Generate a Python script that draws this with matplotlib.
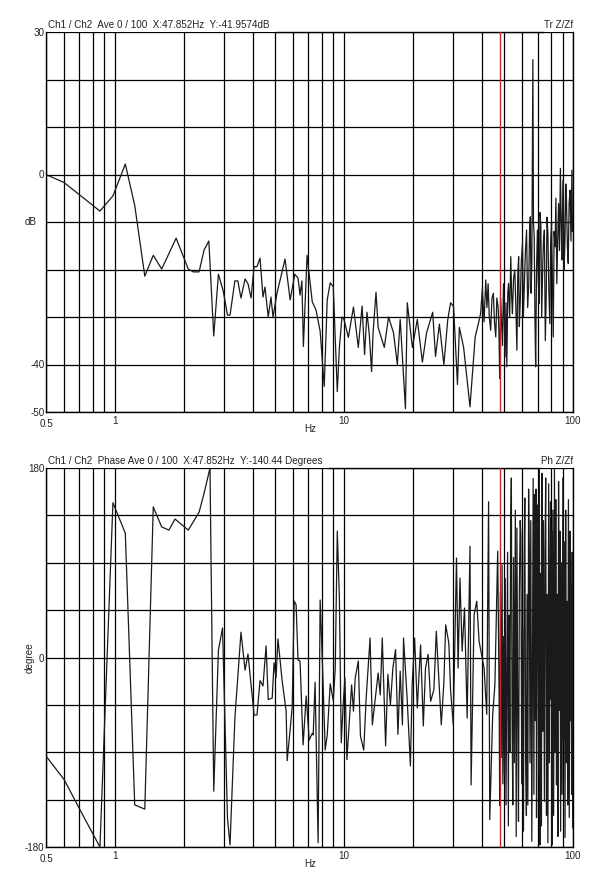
# Transfer function Z/Zf: magnitude (dB) and phase (degrees) vs frequency,
# drawn in the style of the analyser screen dump.

import numpy as np
import matplotlib.pyplot as plt
from matplotlib.ticker import LogLocator, NullFormatter

plt.rcParams['font.family'] = ['Liberation Sans', 'DejaVu Sans']

# magnitude trace
freq_mag = [0.5, 0.6, 0.86, 0.98, 1.11, 1.22, 1.35, 1.47, 1.6, 1.85, 2.09, 2.2, 2.33,
            2.45, 2.57, 2.7, 2.83, 2.97, 3.1, 3.18, 3.34, 3.44, 3.55, 3.7, 3.81, 3.93,
            4.05, 4.17, 4.3, 4.43, 4.52, 4.67, 4.8, 4.9, 5.1, 5.53, 5.82, 6.1, 6.3, 6.43,
            6.55, 6.65, 6.9, 7.27, 7.55, 7.87, 8.2, 8.45, 8.71, 8.98, 9.35, 9.55, 9.8,
            10.0, 10.45, 11.0, 11.55, 12.0, 12.3, 12.6, 12.9, 13.2, 13.4, 13.8, 14.1,
            15.0, 15.65, 16.45, 17.1, 17.6, 18.55, 18.9, 19.9, 20.9, 22.0, 22.95, 24.4,
            25.1, 26.1, 27.3, 28.4, 29.2, 30.1, 31.3, 31.9, 33.3, 35.5, 37.4, 38.7,
            39.5, 40.2, 40.9, 41.6, 42.1, 42.6, 43.1, 43.7, 44.3, 44.9, 45.4, 46.0, 46.5,
            47.1, 47.5, 47.85, 48.3, 48.8, 49.2, 49.7, 50.1, 50.5, 51.0, 51.4, 51.9, 52.3,
            52.9, 53.5, 54.0, 54.4, 55.0, 55.7, 56.3, 56.9, 57.4, 57.9, 58.3, 58.8, 59.5,
            60.2, 60.7, 61.2, 62.0, 62.7, 63.4, 64.1, 64.6, 65.1, 65.6, 66.1, 66.8, 67.2,
            67.7, 68.2, 68.7, 69.3, 69.9, 70.5, 71.2, 71.8, 72.4, 73.0, 73.7, 74.3, 75.0,
            75.7, 76.4, 77.0, 77.7, 78.4, 79.2, 79.9, 80.6, 81.3, 82.0, 82.7, 83.5, 84.2,
            85.0, 85.7, 86.5, 87.3, 88.1, 88.8, 89.4, 90.0, 90.7, 91.5, 92.3, 93.0, 93.6,
            94.5, 95.3, 96.2, 97.1, 98.0, 98.9, 99.5, 100.0]
mag_db = [0, -1.7, -7.7, -4.5, 2.2, -6.5, -21.4, -17, -19.9, -13.4, -19.9, -20.5, -20.5,
          -15.9, -14, -34, -21, -24.5, -29.6, -29.6, -22.4, -22.4, -26, -22, -23, -26,
          -19.4, -19.4, -17.6, -25.8, -23.7, -30, -25.8, -30, -25, -17.8, -26.4, -21, -21.8, -25.4,
          -22.4, -36.2, -17, -26.8, -28.5, -33, -44.6, -26.4, -22.8, -23.6, -45.7, -36.4, -30,
          -30.5, -34.3, -27.9, -36.4, -27.7, -37.9, -29, -33.7, -41.5, -33.3, -24.8, -32.2,
          -36.4, -30, -33.3, -40, -30.5, -49.3, -27, -36.4, -30.5, -39.5, -33.3, -29,
          -38.3, -31.5, -40, -30.5, -27, -27.8, -44.2, -32.2, -36.4, -48.9, -34.2, -31.2,
          -29.3, -24, -31, -22.2, -28, -23, -30, -32.8, -26, -25, -31, -34.2, -26,
          -27.9, -33, -43, -26, -31.4, -36, -23, -30, -38.4, -27, -40.5, -25, -23,
          -30, -17.3, -26, -29.3, -22, -20.1, -28, -37, -21, -17.3, -32, -27.2, -18,
          -14.5, -30, -24.4, -16, -11.7, -28, -23, -12, -8.9, -25, -18.7, 24.2, -10,
          -13.1, -30, -40.5, -20, -11.7, -22, -27.2, -8, -11, -30, -20.1, -14, -11.7,
          -35, -25.8, -9, -12.4, -24, -31.4, -14, -10.3, -22, -34.2, -12, -15.2, -5,
          -23, -14, -6.1, -16, 1.3, -10, -18, -8, -1.2, -20, -13.1, -2, -4.7,
          -15, -18.7, -6, -3.3, -14, 0.9, -12, -8.9]

# phase trace
freq_ph = [0.5, 0.6, 0.705, 0.86, 0.98, 1.11, 1.22, 1.35, 1.47, 1.6, 1.72, 1.83, 2.09,
           2.33, 2.45, 2.6, 2.7, 2.83, 2.95, 3.1, 3.18, 3.34, 3.55, 3.7, 3.81, 4.05, 4.17,
           4.3, 4.43, 4.57, 4.67, 4.86, 4.95, 5.05, 5.15, 5.37, 5.59, 5.65, 5.94, 6.06,
           6.18, 6.3, 6.43, 6.63, 6.84, 7.05, 7.27, 7.34, 7.48, 7.71, 7.87, 8.03, 8.28,
           8.45, 8.71, 8.98, 9.16, 9.35, 9.55, 9.73, 9.93, 10.1, 10.3, 10.8, 11.0, 11.2,
           11.55, 11.8, 12.2, 12.5, 13.0, 13.3, 13.7, 14.1, 14.4, 14.7, 15.2, 15.55, 15.95,
           16.35, 16.8, 17.2, 17.6, 18.0, 18.2, 18.9, 19.5, 19.85, 20.35, 20.9, 21.6, 22.2,
           22.7, 23.3, 23.9, 24.7, 25.3, 26.0, 26.6, 27.3, 27.8, 28.7, 29.2, 30.0, 31.0,
           31.5, 32.1, 32.8, 33.6, 34.5, 35.5, 35.9, 37.0, 38.0, 38.9, 39.9, 40.9, 42.0,
           42.8, 43.3, 44.6, 45.6, 46.9, 47.6,
           47.85, 48.2, 48.6, 49.0, 49.4, 49.8, 50.2, 50.6, 51.0, 51.4, 51.8, 52.2, 52.6,
           53.0, 53.4, 53.8, 54.2, 54.6, 55.0, 55.5, 56.0, 56.5, 56.9, 57.4, 57.8, 58.3,
           58.8, 59.2, 59.7, 60.2, 60.8, 61.2, 61.6, 62.1, 62.6, 63.0, 63.5, 64.0, 64.4,
           64.9, 65.4, 66.1, 66.6, 67.0, 67.5, 67.9, 68.4, 68.9, 69.3, 69.8, 70.3, 70.8,
           71.3, 71.8, 72.3, 72.8, 73.3, 73.8, 74.3, 75.0, 75.5, 76.0, 76.6, 77.1, 77.7,
           78.3, 78.9, 79.7, 80.3, 80.7, 81.1, 81.7, 82.3, 83.0, 83.6, 84.1, 84.7, 85.3,
           85.9, 86.5, 87.1, 87.7, 88.3, 88.9, 89.6, 90.3, 90.9, 91.6, 92.3, 92.9, 93.5,
           94.2, 94.8, 95.5, 96.3, 97.0, 97.5, 98.0, 98.6, 99.2, 99.7, 100.0]
phase_deg = [-93.6, -116, -145, -180, 147, 118, -140, -144, 143, 124, 121, 131.5, 121,
             138, 156, 180, -127, 7, 28, -152.5, -178, -57.5, 24, -12, 3.3, -54.6, -54.6,
             -22, -27, 11, -40, -38.5, -5, -19.5, 17.6, -22, -50.8, -98, -48, 53.6,
             50, -2.4, -3.3, -83, -36.6, -78.4, -72, -73.6, -23.5, -176, 54.6, 2.4, -88,
             -73.6, -25, -41, -10, 120, 56.5, -81, -43, -19.5, -97, -26, -51, -19.5,
             -3.3, -74.6, -88, -38.5, 18.5, -64, -38.5, -14.7, -35.6, 18.5, -84, -16, -45,
             -10, 7.5, -73, -13, -64, 18.5, -41.6, -103, -26, 18.5, -48, 12, -65,
             -10, 3, -41.6, -30.5, 25, -22.6, -64, -24, 31, 13.8, -30.5, -64, 94.5,
             -10, 75.5, 6, 47, -57.5, 105.6, -121, 40.7, 53.4, 15.4, 2.7, -10, -54,
             148, -154, -54, -26, 101, -41.6,
             -140.4, 62, -95, 88, -120, 20, -111, 75, -140, -20, 100, -160, 40,
             -90, 120, 170.5, -60, -140, 95, -100, 140, -170, 123, -60, -155.6, 60,
             130, 116.7, -120, 30, -165, 90, 151.5, -90, -150, 60, -140, 160, 101,
             -100, 130, -174.6, 20, 170, -130, 154.7, -60, 160, -152, 40, 145, -110,
             178, -178, 80, -160, 175, -70, 130, -136.6, 100, 170.5, -150, 60, -176,
             165, -100, 148, -40, 120, -178, 140, -150, 180, -90, 150, -121, 60,
             -170, 167, -50, 120, -165, 90, -130, 170.5, -80, 110, -171, 140, -100,
             53.4, -140, 150, -152, 120, -60, 69, -130, 100, -162, -26]

cursor_hz = 47.852

W, H = 600., 876.
fig = plt.figure(figsize=(W / 100, H / 100), dpi=100)
ax1 = fig.add_axes([46 / W, 1 - 412 / H, 527 / W, 380 / H])
ax2 = fig.add_axes([46 / W, 1 - 847 / H, 527 / W, 379 / H])

FS = 7.1
TXT = '#222222'


def style_panel(ax, ylim, ystep, ylabels, title, tag, top_gap):
    ax.set_xscale('log')
    ax.set_xlim(0.5, 100)
    ax.set_ylim(*ylim)
    ax.xaxis.set_minor_locator(LogLocator(base=10, subs=np.arange(2, 10)))
    ax.xaxis.set_minor_formatter(NullFormatter())
    ax.set_xticks([1, 10, 100])
    ax.set_xticklabels(['1', '10', '100'])
    ax.set_yticks(np.arange(ylim[0], ylim[1] + 1, ystep))
    ax.set_yticklabels(ylabels)
    ax.tick_params(which='both', length=0, labelsize=FS, colors=TXT)
    ax.tick_params(axis='y', pad=1)
    ax.tick_params(axis='x', pad=3)
    ax.grid(True, which='both', axis='x', color='k', lw=0.9)
    ax.grid(True, which='major', axis='y', color='k', lw=0.9)
    ax.set_axisbelow(True)
    for side in ['left', 'right', 'bottom']:
        ax.spines[side].set_linewidth(1.0)
    # top frame is broken by the caption texts
    ax.spines['top'].set_visible(False)
    ax.plot(top_gap, [1, 1], transform=ax.transAxes, color='k', lw=1.0, clip_on=False)
    ax.annotate(title, xy=(0, 1), xycoords='axes fraction', xytext=(2, 7),
                textcoords='offset pixels', ha='left', va='center', fontsize=FS, color=TXT)
    ax.annotate(tag, xy=(1, 1), xycoords='axes fraction', xytext=(0, 7),
                textcoords='offset pixels', ha='right', va='center', fontsize=FS, color=TXT)
    ax.annotate('0.5', xy=(0, 0), xycoords='axes fraction', xytext=(1, -12),
                textcoords='offset pixels', ha='center', va='center', fontsize=FS, color=TXT)
    ax.annotate('Hz', xy=(310 / 600., 0), xycoords=('figure fraction', 'axes fraction'),
                xytext=(0, -17), textcoords='offset pixels', ha='center', va='center',
                fontsize=FS, color=TXT)
    # cursor marker sits on top of the trace
    ax.axvline(cursor_hz, color='#c0282d', lw=1.0, zorder=5)


# magnitude
ax1.plot(freq_mag, mag_db, color='#1a1a1a', lw=0.9, zorder=4)
style_panel(ax1, (-50, 30), 10, ['-50', '-40', '', '', '', '0', '', '', '30'],
            'Ch1 / Ch2  Ave 0 / 100  X:47.852Hz  Y:-41.9574dB', 'Tr Z/Zf',
            [(276 - 46) / 527., (543 - 46) / 527.])
ax1.annotate('dB', xy=(0, -10), xycoords=('axes fraction', 'data'), xytext=(-15, 0),
             textcoords='offset pixels', ha='center', va='center', fontsize=FS, color=TXT)

# phase
ax2.plot(freq_ph, phase_deg, color='#1a1a1a', lw=0.9, zorder=4)
style_panel(ax2, (-180, 180), 45, ['-180', '', '', '', '0', '', '', '', '180'],
            'Ch1 / Ch2  Phase Ave 0 / 100  X:47.852Hz  Y:-140.44 Degrees', 'Ph Z/Zf',
            [(329 - 46) / 527., (540 - 46) / 527.])
ax2.annotate('degree', xy=(0, 0), xycoords=('axes fraction', 'data'), xytext=(-16, 0),
             textcoords='offset pixels', ha='center', va='center', fontsize=FS,
             rotation=90, color=TXT)

fig.savefig('out.png', dpi=100)
